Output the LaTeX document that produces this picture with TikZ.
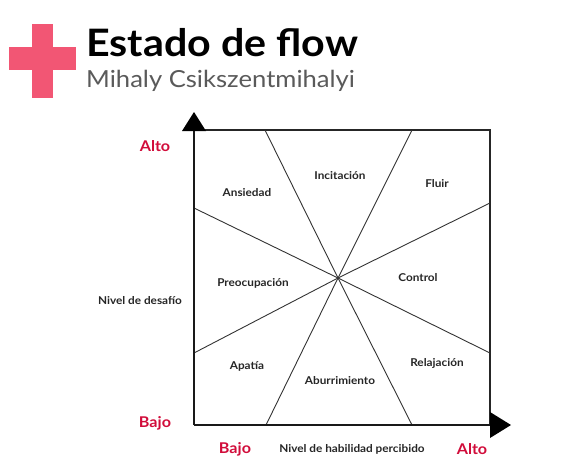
\documentclass[tikz,border=0pt]{standalone}
\usepackage{fontspec}
\setmainfont{Lato}[FakeStretch=1.09]
\definecolor{crossred}{HTML}{F25674}
\definecolor{axred}{HTML}{D10C3A}
\definecolor{subgray}{HTML}{5A5A5A}
\definecolor{linegray}{HTML}{333333}
\begin{document}
\begin{tikzpicture}[x=1pt,y=-1pt,
  lbl/.style={font=\bfseries\fontsize{10.8}{12}\selectfont, text=black!85, inner sep=0pt},
  redlbl/.style={font=\bfseries\fontsize{14.8}{16}\selectfont, text=axred, inner sep=0pt},
  sector/.style={draw=linegray, line width=0.9pt},
  axis/.style={draw=black!90, line width=2.4pt}]
\useasboundingbox (0,0) rectangle (585,468);
% cross
\fill[crossred] (32,24) rectangle (53,98);
\fill[crossred] (9,47) rectangle (76,70);
% title
\node[anchor=base west, inner sep=0pt, font=\bfseries\fontsize{37.8}{40}\selectfont] (title) at (86,57) {Estado de flow};
\node[anchor=base west, inner sep=0pt, font=\fontsize{23.5}{26}\selectfont, text=subgray] (sub) at (86,88) {Mihaly Csikszentmihalyi};
% box
\coordinate (c) at (338,278);
\draw[draw=black!85, line width=1.3pt] (194,130) -- (490,130) -- (490,425);
% sector lines
\foreach \p in {(265,130),(412,130),(194,208),(490,203),(194,353),(490,353),(266,425),(412,425)}
  \draw[sector] (c) -- \p;
% axes
\coordinate (o) at (194,425);
\coordinate (ytip) at (194,112);
\coordinate (xtip) at (511,425);
\draw[axis] (o) -- (194,129);
\draw[axis] (o) -- (491,425);
\fill[black] (ytip) -- (182,131) -- (206,131) -- cycle;
\fill[black] (xtip) -- (490,412) -- (490,438) -- cycle;
% labels
\node[lbl] (inc) at (340,176) {Incitación};
\node[lbl] (ans) at (247,193) {Ansiedad};
\node[lbl] (flu) at (437,184) {Fluir};
\node[lbl] (pre) at (253,283) {Preocupación};
\node[lbl] (con) at (418,278) {Control};
\node[lbl] (apa) at (247,366) {Apatía};
\node[lbl] (abu) at (340,381) {Aburrimiento};
\node[lbl] (rel) at (437,363) {Relajación};
\node[lbl] (xl) at (352,449) {Nivel de habilidad percibido};
\node[lbl] (yl) at (140,301) {Nivel de desafío};
\node[redlbl] (xb) at (235,449) {Bajo};
\node[redlbl] (xa) at (472,449) {Alto};
\node[redlbl] (ya) at (155,146) {Alto};
\node[redlbl] (yb) at (155,423) {Bajo};
\end{tikzpicture}
\end{document}
